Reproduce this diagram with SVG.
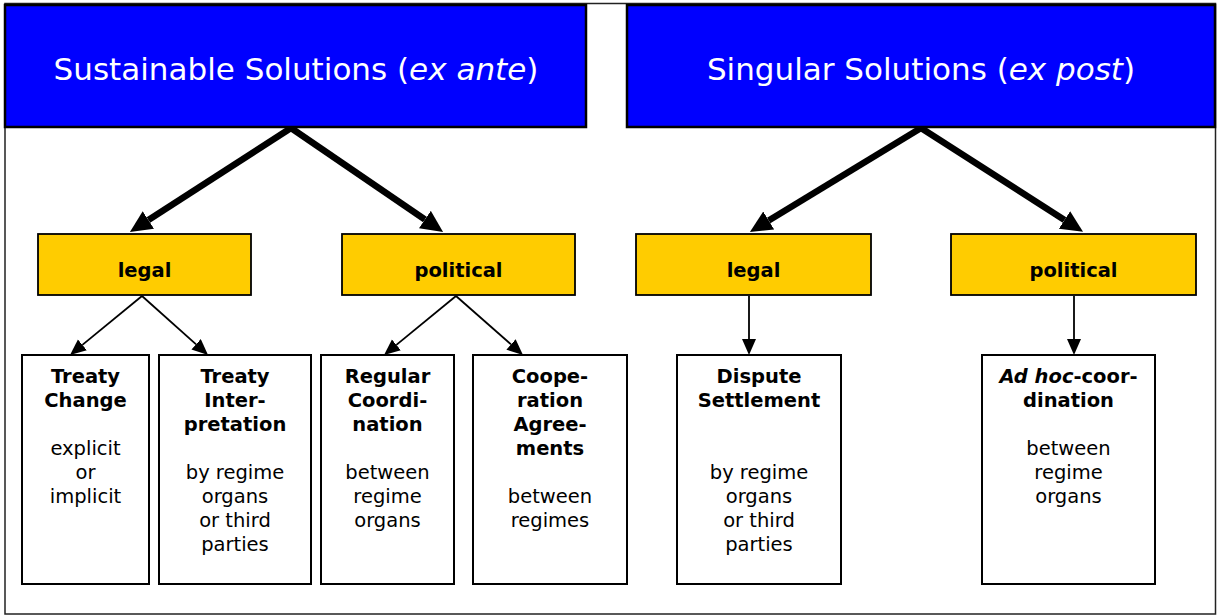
<svg xmlns="http://www.w3.org/2000/svg" width="1217" height="616" viewBox="0 0 1217 616">
<style>
.frame{fill:#fff;stroke:#222;stroke-width:1.5}
.head{fill:#0000ff;stroke:#000;stroke-width:2.5}
.ht{font-family:"DejaVu Sans",Verdana,sans-serif;font-size:31px;fill:#fff;text-anchor:middle}
.cat{fill:#ffcc00;stroke:#000;stroke-width:1.8}
.ct{font-family:"DejaVu Sans",Verdana,sans-serif;font-size:19.5px;font-weight:bold;fill:#000;text-anchor:middle}
.leaf{fill:#fff;stroke:#000;stroke-width:2}
.lt{font-family:"DejaVu Sans",Verdana,sans-serif;font-size:19.5px;fill:#000;text-anchor:middle}
.b{font-weight:bold}
.thick{stroke:#000;stroke-width:6.5;fill:none;marker-end:url(#bigArrow)}
.thin{stroke:#000;stroke-width:1.8;fill:none;marker-end:url(#smallArrow)}
</style>
<defs>
<marker id="bigArrow" markerUnits="userSpaceOnUse" markerWidth="24" markerHeight="22" refX="0" refY="10.5" orient="auto">
<path d="M0,0 L22,10.5 L0,21 z" fill="#000"/>
</marker>
<marker id="smallArrow" markerUnits="userSpaceOnUse" markerWidth="18" markerHeight="16" refX="0" refY="7" orient="auto">
<path d="M0,0 L16,7 L0,14 z" fill="#000"/>
</marker>
</defs>
<rect class="frame" x="5" y="3.5" width="1210.5" height="610.5"/>

<g id="connectors">
<line class="thick" x1="291" y1="128" x2="148.4" y2="220"/>
<line class="thick" x1="291" y1="128" x2="424.9" y2="219.5"/>
<line class="thick" x1="921" y1="128" x2="768.7" y2="220.5"/>
<line class="thick" x1="921" y1="128" x2="1064.5" y2="220"/>
<line class="thin" x1="142" y1="296" x2="82.4" y2="344.9"/>
<line class="thin" x1="142" y1="296" x2="196.1" y2="344.3"/>
<line class="thin" x1="456" y1="296" x2="396.4" y2="344.9"/>
<line class="thin" x1="456" y1="296" x2="511" y2="344.4"/>
<line class="thin" x1="749" y1="296" x2="749" y2="339"/>
<line class="thin" x1="1074" y1="296" x2="1074" y2="339"/>
</g>

<g id="sustainable">
<rect class="head" x="5" y="5" width="581" height="122"/>
<text class="ht" x="296" y="80">Sustainable Solutions (<tspan font-style="italic">ex ante</tspan>)</text>
</g>
<g id="singular">
<rect class="head" x="627" y="5" width="588" height="122"/>
<text class="ht" x="921" y="80">Singular Solutions (<tspan font-style="italic">ex post</tspan>)</text>
</g>

<g id="legal1">
<rect class="cat" x="38" y="234" width="213" height="61"/>
<text class="ct" x="144.5" y="277">legal</text>
</g>
<g id="political1">
<rect class="cat" x="342" y="234" width="233" height="61"/>
<text class="ct" x="458.5" y="277">political</text>
</g>
<g id="legal2">
<rect class="cat" x="636" y="234" width="235" height="61"/>
<text class="ct" x="753.5" y="277">legal</text>
</g>
<g id="political2">
<rect class="cat" x="951" y="234" width="245" height="61"/>
<text class="ct" x="1073.5" y="277">political</text>
</g>

<g id="treatyChange">
<rect class="leaf" x="22" y="355" width="127" height="229"/>
<text class="lt" x="85.5" y="383"><tspan class="b">Treaty</tspan><tspan class="b" x="85.5" dy="24">Change</tspan><tspan x="85.5" dy="48">explicit</tspan><tspan x="85.5" dy="24">or</tspan><tspan x="85.5" dy="24">implicit</tspan></text>
</g>
<g id="treatyInterpretation">
<rect class="leaf" x="159" y="355" width="152" height="229"/>
<text class="lt" x="235" y="383"><tspan class="b">Treaty</tspan><tspan class="b" x="235" dy="24">Inter-</tspan><tspan class="b" x="235" dy="24">pretation</tspan><tspan x="235" dy="48">by regime</tspan><tspan x="235" dy="24">organs</tspan><tspan x="235" dy="24">or third</tspan><tspan x="235" dy="24">parties</tspan></text>
</g>
<g id="regularCoordination">
<rect class="leaf" x="321" y="355" width="133" height="229"/>
<text class="lt" x="387.5" y="383"><tspan class="b">Regular</tspan><tspan class="b" x="387.5" dy="24">Coordi-</tspan><tspan class="b" x="387.5" dy="24">nation</tspan><tspan x="387.5" dy="48">between</tspan><tspan x="387.5" dy="24">regime</tspan><tspan x="387.5" dy="24">organs</tspan></text>
</g>
<g id="cooperationAgreements">
<rect class="leaf" x="473" y="355" width="154" height="229"/>
<text class="lt" x="550" y="383"><tspan class="b">Coope-</tspan><tspan class="b" x="550" dy="24">ration</tspan><tspan class="b" x="550" dy="24">Agree-</tspan><tspan class="b" x="550" dy="24">ments</tspan><tspan x="550" dy="48">between</tspan><tspan x="550" dy="24">regimes</tspan></text>
</g>
<g id="disputeSettlement">
<rect class="leaf" x="677" y="355" width="164" height="229"/>
<text class="lt" x="759" y="383"><tspan class="b">Dispute</tspan><tspan class="b" x="759" dy="24">Settlement</tspan><tspan x="759" dy="72">by regime</tspan><tspan x="759" dy="24">organs</tspan><tspan x="759" dy="24">or third</tspan><tspan x="759" dy="24">parties</tspan></text>
</g>
<g id="adHocCoordination">
<rect class="leaf" x="982" y="355" width="173" height="229"/>
<text class="lt" x="1068.5" y="383"><tspan class="b" font-style="italic">Ad hoc</tspan><tspan class="b">-coor-</tspan><tspan class="b" x="1068.5" dy="24">dination</tspan><tspan x="1068.5" dy="48">between</tspan><tspan x="1068.5" dy="24">regime</tspan><tspan x="1068.5" dy="24">organs</tspan></text>
</g>
</svg>
